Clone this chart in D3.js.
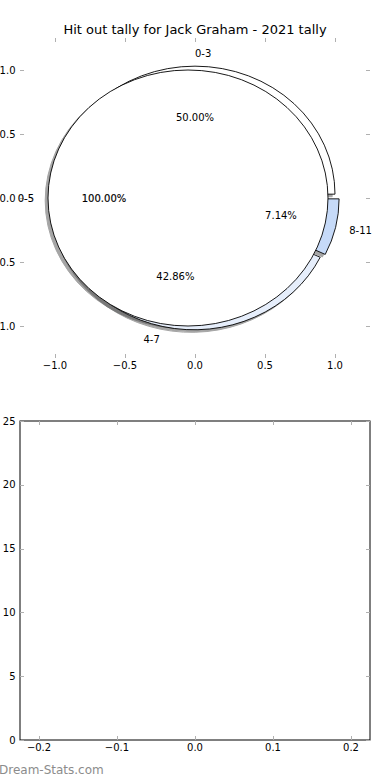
<!DOCTYPE html>
<html>
<head>
<meta charset="utf-8">
<script src="https://cdn.jsdelivr.net/npm/d3@7"></script>
<style>
  html, body { margin: 0; padding: 0; background: #fff; }
  text { font-family: "DejaVu Sans", sans-serif; }
</style>
</head>
<body>
<div id="chart"></div>
<script>
// data
const innerLabels = ["0-5"]
const innerCounts = [14]
const outerLabels = ["0-3", "4-7", "8-11"]
const outerCounts = [7, 6, 1]
const pieTicks = [-1.0, -0.5, 0.0, 0.5, 1.0]
const barXTicks = [-0.2, -0.1, 0.0, 0.1, 0.2]
const barYTicks = [0, 5, 10, 15, 20, 25]

const innerColors = ["#ffffff"]
const outerColors = ["#ffffff", "#e6eefb", "#c6daf8"]
const tick_color = "#b0b0b0"

const svg = d3.select("#chart").append("svg")
    .attr("width", 390)
    .attr("height", 780)

// ---------- pie axes ----------
const px = d3.scaleLinear().domain([-1.25, 1.25]).range([20, 370])
const py = d3.scaleLinear().domain([-1.25, 1.25]).range([358, 38])
const kx = px(1) - px(0),
      ky = py(0) - py(1)

svg.append("text")
    .attr("x", 195)
    .attr("y", 34)
    .attr("text-anchor", "middle")
    .attr("font-size", 13)
    .text("Hit out tally for Jack Graham - 2021 tally")

drawTicks(px, py, pieTicks, pieTicks, d => d.toFixed(1).replace("-", "\u2212"), d => d.toFixed(1).replace("-", "\u2212"))

const unitArc = d3.arc().innerRadius(0).outerRadius(1)

function layoutPie(counts, explode) {
    // matplotlib style: start at 3 o'clock, counterclockwise
    const arcs = d3.pie().sort(null)
                    .startAngle(Math.PI / 2)
                    .endAngle(Math.PI / 2 - 2 * Math.PI)(counts)
    const total = d3.sum(counts)
    return arcs.map((a, i) => {
        const theta = Math.PI / 2 - (a.startAngle + a.endAngle) / 2
        return {
            arc: a,
            theta: theta,
            ox: explode * Math.cos(theta),
            oy: explode * Math.sin(theta),
            pct: a.value / total * 100,
            i: i
        }
    })
}

const outerPie = layoutPie(outerCounts, 0.03)
const innerPie = layoutPie(innerCounts, 0.05)

const pieG = svg.append("g")

function wedgeTransform(ox, oy) {
    return `translate(${px(ox)},${py(oy)}) scale(${kx},${ky})`
}

// shadows first (lower zorder), then wedges
const shadows = [...outerPie, ...innerPie]
pieG.selectAll(".shadow")
    .data(shadows)
    .enter()
    .append("path")
    .attr("class", "shadow")
    .attr("d", d => unitArc(d.arc))
    .attr("transform", d => wedgeTransform(d.ox - 0.02, d.oy - 0.02))
    .attr("fill", "#4d4d4d")
    .attr("stroke", "#4d4d4d")
    .attr("stroke-width", 1)
    .attr("vector-effect", "non-scaling-stroke")
    .attr("opacity", 0.5)

pieG.selectAll(".outer-wedge")
    .data(outerPie)
    .enter()
    .append("path")
    .attr("class", "outer-wedge")
    .attr("d", d => unitArc(d.arc))
    .attr("transform", d => wedgeTransform(d.ox, d.oy))
    .attr("fill", d => outerColors[d.i])
    .attr("stroke", "#000")
    .attr("stroke-width", 0.9)
    .attr("vector-effect", "non-scaling-stroke")

pieG.selectAll(".inner-wedge")
    .data(innerPie)
    .enter()
    .append("path")
    .attr("class", "inner-wedge")
    .attr("d", d => unitArc(d.arc))
    .attr("transform", d => wedgeTransform(d.ox, d.oy))
    .attr("fill", d => innerColors[d.i])
    .attr("stroke", "#000")
    .attr("stroke-width", 0.9)
    .attr("vector-effect", "non-scaling-stroke")

function pieTexts(data, labels, cls, heavy) {
    const g = svg.append("g").attr("class", cls)
    g.selectAll(".pie-label")
        .data(data)
        .enter()
        .append("text")
        .attr("x", d => px(d.ox + 1.1 * Math.cos(d.theta)))
        .attr("y", d => py(d.oy + 1.1 * Math.sin(d.theta)))
        .attr("dy", "0.35em")
        .attr("font-size", 10)
        .attr("text-anchor", d => (d.ox + 1.1 * Math.cos(d.theta)) > 0 ? "start" : "end")
        .attr("stroke", heavy ? "#000" : "none")
        .attr("stroke-width", heavy ? 0.15 : 0)
        .text(d => labels[d.i])
    g.selectAll(".pie-pct")
        .data(data)
        .enter()
        .append("text")
        .attr("x", d => px(d.ox + 0.6 * Math.cos(d.theta)))
        .attr("y", d => py(d.oy + 0.6 * Math.sin(d.theta)))
        .attr("dy", "0.35em")
        .attr("font-size", 10)
        .attr("text-anchor", "middle")
        .attr("stroke", heavy ? "#000" : "none")
        .attr("stroke-width", heavy ? 0.15 : 0)
        .text(d => d.pct.toFixed(2) + "%")
}
pieTexts(outerPie, outerLabels, "outer-text", false)
pieTexts(innerPie, innerLabels, "inner-text", true)

// ---------- empty bar axes ----------
const bx = d3.scaleLinear().domain([-0.2244, 0.2244]).range([20, 370])
const by = d3.scaleLinear().domain([0, 25]).range([740, 421])

svg.append("rect")
    .attr("x", bx.range()[0])
    .attr("y", by.range()[1])
    .attr("width", bx.range()[1] - bx.range()[0])
    .attr("height", by.range()[0] - by.range()[1])
    .attr("fill", "none")
    .attr("stroke", "#000")
    .attr("stroke-width", 1)

drawTicks(bx, by, barXTicks, barYTicks, d => d.toFixed(1).replace("-", "\u2212"), d => String(d))

// watermark
svg.append("text")
    .attr("x", -1)
    .attr("y", 774)
    .attr("font-size", 12)
    .attr("fill", "#8c8c8c")
    .text("Dream-Stats.com")

// inward ticks on all four sides, labels left and bottom
function drawTicks(xs, ys, xt, yt, xfmt, yfmt) {
    const [x0, x1] = xs.range(),
          [y0, y1] = ys.range()
    const g = svg.append("g").attr("class", "ticks")
    const len = 4
    xt.forEach(t => {
        const x = Math.round(xs(t)) + 0.5
        g.append("line").attr("x1", x).attr("x2", x).attr("y1", y0).attr("y2", y0 - len)
            .attr("stroke", tick_color)
        g.append("line").attr("x1", x).attr("x2", x).attr("y1", y1).attr("y2", y1 + len)
            .attr("stroke", tick_color)
        g.append("text")
            .attr("x", xs(t))
            .attr("y", y0 + 11)
            .attr("text-anchor", "middle")
            .attr("font-size", 10)
            .text(xfmt(t))
    })
    yt.forEach(t => {
        const y = Math.round(ys(t)) + 0.5
        g.append("line").attr("x1", x0).attr("x2", x0 + len).attr("y1", y).attr("y2", y)
            .attr("stroke", tick_color)
        g.append("line").attr("x1", x1).attr("x2", x1 - len).attr("y1", y).attr("y2", y)
            .attr("stroke", tick_color)
        g.append("text")
            .attr("x", x0 - 4.5)
            .attr("y", ys(t))
            .attr("dy", "0.35em")
            .attr("text-anchor", "end")
            .attr("font-size", 10)
            .text(yfmt(t))
    })
}
</script>
</body>
</html>
